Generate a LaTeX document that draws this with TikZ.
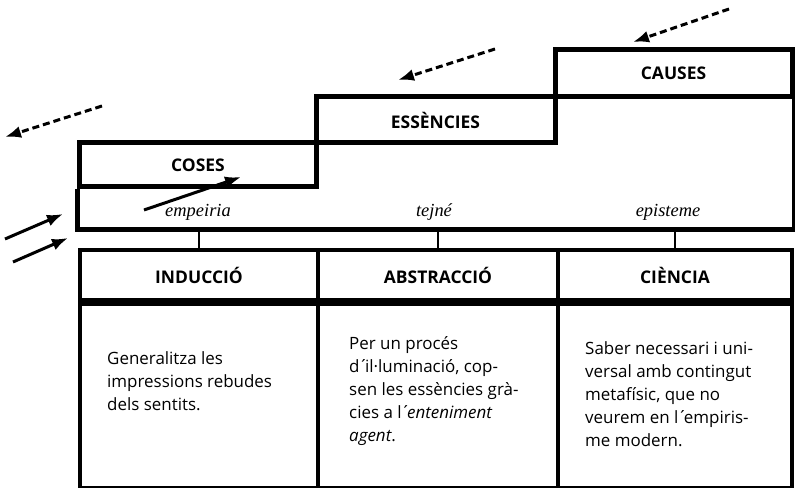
\documentclass[tikz,border=0pt]{standalone}
\usepackage{fontspec}
\setmainfont{Open Sans}
\newfontfamily\greekfont{Liberation Serif}
\usetikzlibrary{arrows.meta}

\newcommand{\acc}{\kern-.05em´\kern-.2em}

\tikzset{
  stair/.style={draw, line width=5bp, line join=miter, inner sep=0pt,
    font=\fontsize{17.5}{20}\selectfont\bfseries},
  head/.style={draw, line width=4bp, minimum height=50bp, inner sep=0pt,
    font=\fontsize{17.5}{20}\selectfont\bfseries},
  cell/.style={draw, line width=4bp, minimum height=184bp, inner sep=0pt},
  body/.style={anchor=west, align=left, inner sep=0pt,
    font=\fontsize{17}{23}\selectfont},
  term/.style={inner sep=0pt, font=\fontsize{18.5}{20}\selectfont\greekfont\itshape},
  tick/.style={line width=1.5bp},
  idea/.style={line width=3bp, dash pattern=on 7bp off 4bp,
    -{Latex[length=16bp,width=12bp]}},
  sense/.style={line width=3bp, -{Latex[length=16bp,width=12bp]}}
}

\begin{document}
\begin{tikzpicture}[x=1bp,y=-1bp]
\useasboundingbox (0,0) rectangle (795,488);
% The three steps of the stair
\node[stair, minimum width=236bp, minimum height=44bp] (coses) at (198,165) {COSES};
\node[stair, minimum width=239bp, minimum height=46bp] (essencies) at (435.5,120) {ESSÈNCIES};
\node[stair, minimum width=237bp, minimum height=47bp] (causes) at (673.5,73.5) {CAUSES};
% Band under the stair is closed at y=230
\coordinate (bandbot) at (0,230);
\draw[line width=5bp, line join=miter] (coses.south west) -- (coses.south west |- bandbot)
  -- (causes.south east |- bandbot) -- (causes.south east);
% Names of the kinds of knowledge
\node[term] (empeiria) at (198,212) {empeiria};
\node[term] (tejne) at (434,212) {tejné};
\node[term] (episteme) at (668,212) {episteme};
% Headers of the table
\node[head, minimum width=238bp] (induccio) at (199,275) {INDUCCIÓ};
\node[head, minimum width=240bp] (abstraccio) at (438,275) {ABSTRACCIÓ};
\node[head, minimum width=234bp] (ciencia) at (675,275) {CIÈNCIA};
% Cells under the headers
\node[cell, minimum width=238bp, anchor=north] (cellind) at (induccio.south) {};
\node[cell, minimum width=240bp, anchor=north] (cellabs) at (abstraccio.south) {};
\node[cell, minimum width=234bp, anchor=north] (cellcie) at (ciencia.south) {};
% Texts in the cells
\node[body] (txtind) at (107,381) {Generalitza les\\impressions rebudes\\dels sentits.};
\node[body] (txtabs) at (349,391) {Per un procés\\d\acc il·luminació, cop-\\sen les essències grà-\\cies a l\acc\textit{enteniment}\\\textit{agent}.};
\node[body] (txtcie) at (585,394) {Saber necessari i uni-\\versal amb contingut\\metafísic, que no\\veurem en l\acc empiris-\\me modern.};
% Ticks from the band down to the headers
\draw[tick] (induccio.north) -- (induccio.north |- bandbot);
\draw[tick] (abstraccio.north) -- (abstraccio.north |- bandbot);
\draw[tick] (ciencia.north) -- (ciencia.north |- bandbot);
% Dashed arrows going down the stair
\coordinate (d1a) at (102,106);
\coordinate (d1b) at (5,137);
\coordinate (d2a) at (495,49);
\coordinate (d2b) at (398,80);
\coordinate (d3a) at (729,9);
\coordinate (d3b) at (633,42);
\draw[idea] (d1a) -- (d1b);
\draw[idea] (d2a) -- (d2b);
\draw[idea] (d3a) -- (d3b);
% Solid arrows coming in from the senses
\coordinate (s1a) at (144,210);
\coordinate (s1b) at (241,177);
\coordinate (s2a) at (5,239);
\coordinate (s2b) at (63,214);
\coordinate (s3a) at (13,262);
\coordinate (s3b) at (68,238);
\draw[sense] (s1a) -- (s1b);
\draw[sense] (s2a) -- (s2b);
\draw[sense] (s3a) -- (s3b);
\end{tikzpicture}
\end{document}
